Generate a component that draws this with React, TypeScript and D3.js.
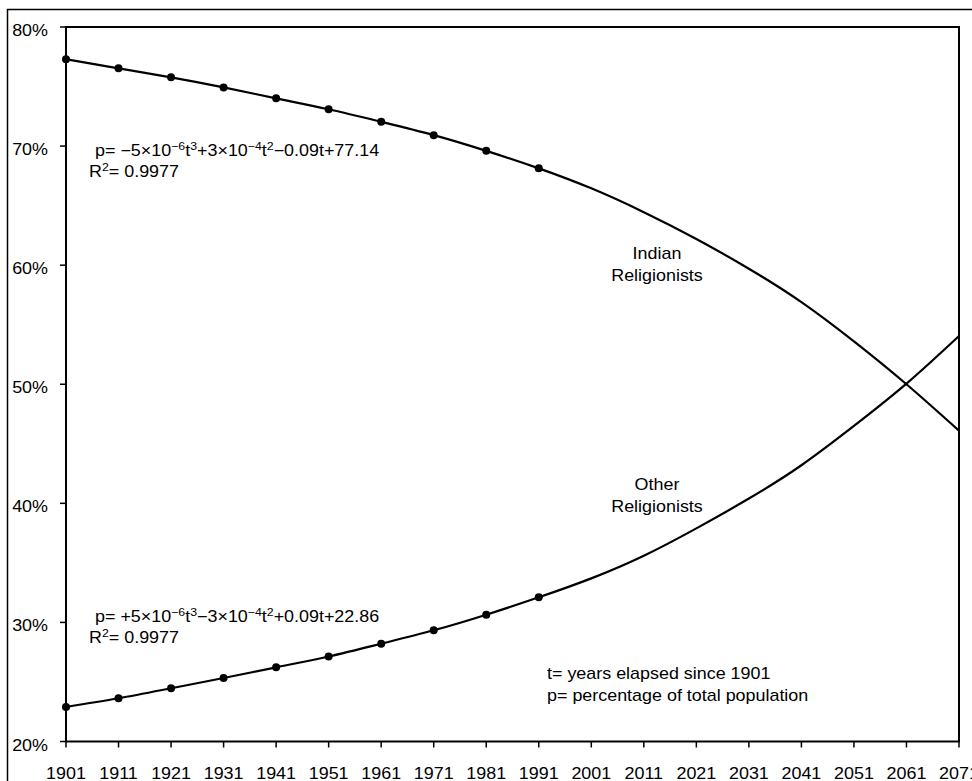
import React from "react";
import * as d3 from "d3";

// census years with observed values, then the fitted trend out to 2071
const years = [1901, 1911, 1921, 1931, 1941, 1951, 1961, 1971, 1981, 1991, 2001, 2011, 2021, 2031, 2041, 2051, 2061, 2071];
const observedYears = [1901, 1911, 1921, 1931, 1941, 1951, 1961, 1971, 1981, 1991];
const indianObserved = [77.29, 76.53, 75.77, 74.93, 74.01, 73.09, 72.04, 70.92, 69.6, 68.13];
const otherObserved = [22.9, 23.63, 24.47, 25.33, 26.23, 27.14, 28.21, 29.34, 30.65, 32.11];
const indianTrend = [77.29, 76.53, 75.77, 74.93, 74.01, 73.09, 72.04, 70.92, 69.6, 68.13, 66.45, 64.45, 62.2, 59.7, 56.9, 53.6, 50.0, 46.1];
const otherTrend = [22.9, 23.63, 24.47, 25.33, 26.23, 27.14, 28.21, 29.34, 30.65, 32.11, 33.7, 35.6, 37.9, 40.4, 43.2, 46.5, 50.05, 54.05];
const yTicks = [20, 30, 40, 50, 60, 70, 80];

const FONT = "'Liberation Sans', Arial, sans-serif";
const STRETCH = 1.12; // the original's text is drawn a bit wide

const Sup = ({ children }: { children: React.ReactNode }) => (
  <tspan fontSize={11} baselineShift="6">{children}</tspan>
);

// text drawn horizontally stretched around its anchor point
const T = ({ x, y, anchor = "start", size = 16, children }: any) => (
  <g transform={`translate(${x},${y}) scale(${STRETCH},1)`}>
    <text x={0} y={0} textAnchor={anchor} fontSize={size}>
      {children}
    </text>
  </g>
);

export default function App() {
  const W = 972;
  const H = 781;
  const left = 66;
  const right = 959;
  const top = 27;
  const bottom = 741.5;

  const x = d3.scaleLinear().domain([1901, 2071]).range([left, right]);
  const y = d3.scaleLinear().domain([20, 80]).range([bottom, top]);

  const line = d3
    .line<[number, number]>()
    .x((d) => x(d[0]))
    .y((d) => y(d[1]))
    .curve(d3.curveNatural);

  const indianPath = line(years.map((yr, i) => [yr, indianTrend[i]]));
  const otherPath = line(years.map((yr, i) => [yr, otherTrend[i]]));

  return (
    <div style={{ position: "fixed", left: 0, top: 0, width: W, height: H, overflow: "hidden", background: "#fff" }}>
      <svg width={W} height={H} style={{ display: "block" }} fontFamily={FONT}>
        <rect x={0} y={0} width={W} height={H} fill="#fff" />
        {/* outer frame */}
        <rect x={7.5} y={9.5} width={1000} height={1000} fill="none" stroke="#000" strokeWidth={1.5} />

        {/* plot box */}
        <rect x={left} y={top} width={right - left} height={bottom - top} fill="none" stroke="#000" strokeWidth={2} />

        {/* y axis */}
        {yTicks.map((t) => (
          <g key={t}>
            <line x1={left - 6} x2={left} y1={y(t)} y2={y(t)} stroke="#000" strokeWidth={1.5} />
            <T x={48} y={y(t) + 9} anchor="end">
              {t}%
            </T>
          </g>
        ))}

        {/* x axis */}
        {years.map((yr) => (
          <g key={yr}>
            <line x1={x(yr)} x2={x(yr)} y1={bottom} y2={bottom + 6} stroke="#000" strokeWidth={1.5} />
            <T x={x(yr)} y={bottom + 37} anchor="middle">
              {yr}
            </T>
          </g>
        ))}

        {/* trend curves */}
        <path d={indianPath || ""} fill="none" stroke="#000" strokeWidth={2.2} />
        <path d={otherPath || ""} fill="none" stroke="#000" strokeWidth={2.2} />

        {observedYears.map((yr, i) => (
          <circle key={"i" + yr} cx={x(yr)} cy={y(indianObserved[i])} r={4} fill="#000" />
        ))}
        {observedYears.map((yr, i) => (
          <circle key={"o" + yr} cx={x(yr)} cy={y(otherObserved[i])} r={4} fill="#000" />
        ))}

        {/* equations */}
        <T x={95} y={156}>
          p= −5×10<Sup>−6</Sup>t<Sup>3</Sup>+3×10<Sup>−4</Sup>t<Sup>2</Sup>−0.09t+77.14
        </T>
        <T x={89} y={177}>
          R<Sup>2</Sup>= 0.9977
        </T>
        <T x={95} y={622}>
          p= +5×10<Sup>−6</Sup>t<Sup>3</Sup>−3×10<Sup>−4</Sup>t<Sup>2</Sup>+0.09t+22.86
        </T>
        <T x={89} y={643}>
          R<Sup>2</Sup>= 0.9977
        </T>

        {/* series labels */}
        <T x={657} y={259} anchor="middle">Indian</T>
        <T x={657} y={281} anchor="middle">Religionists</T>
        <T x={657} y={490} anchor="middle">Other</T>
        <T x={657} y={512} anchor="middle">Religionists</T>

        {/* notes */}
        <T x={547} y={679}>t= years elapsed since 1901</T>
        <T x={547} y={701}>p= percentage of total population</T>
      </svg>
    </div>
  );
}
